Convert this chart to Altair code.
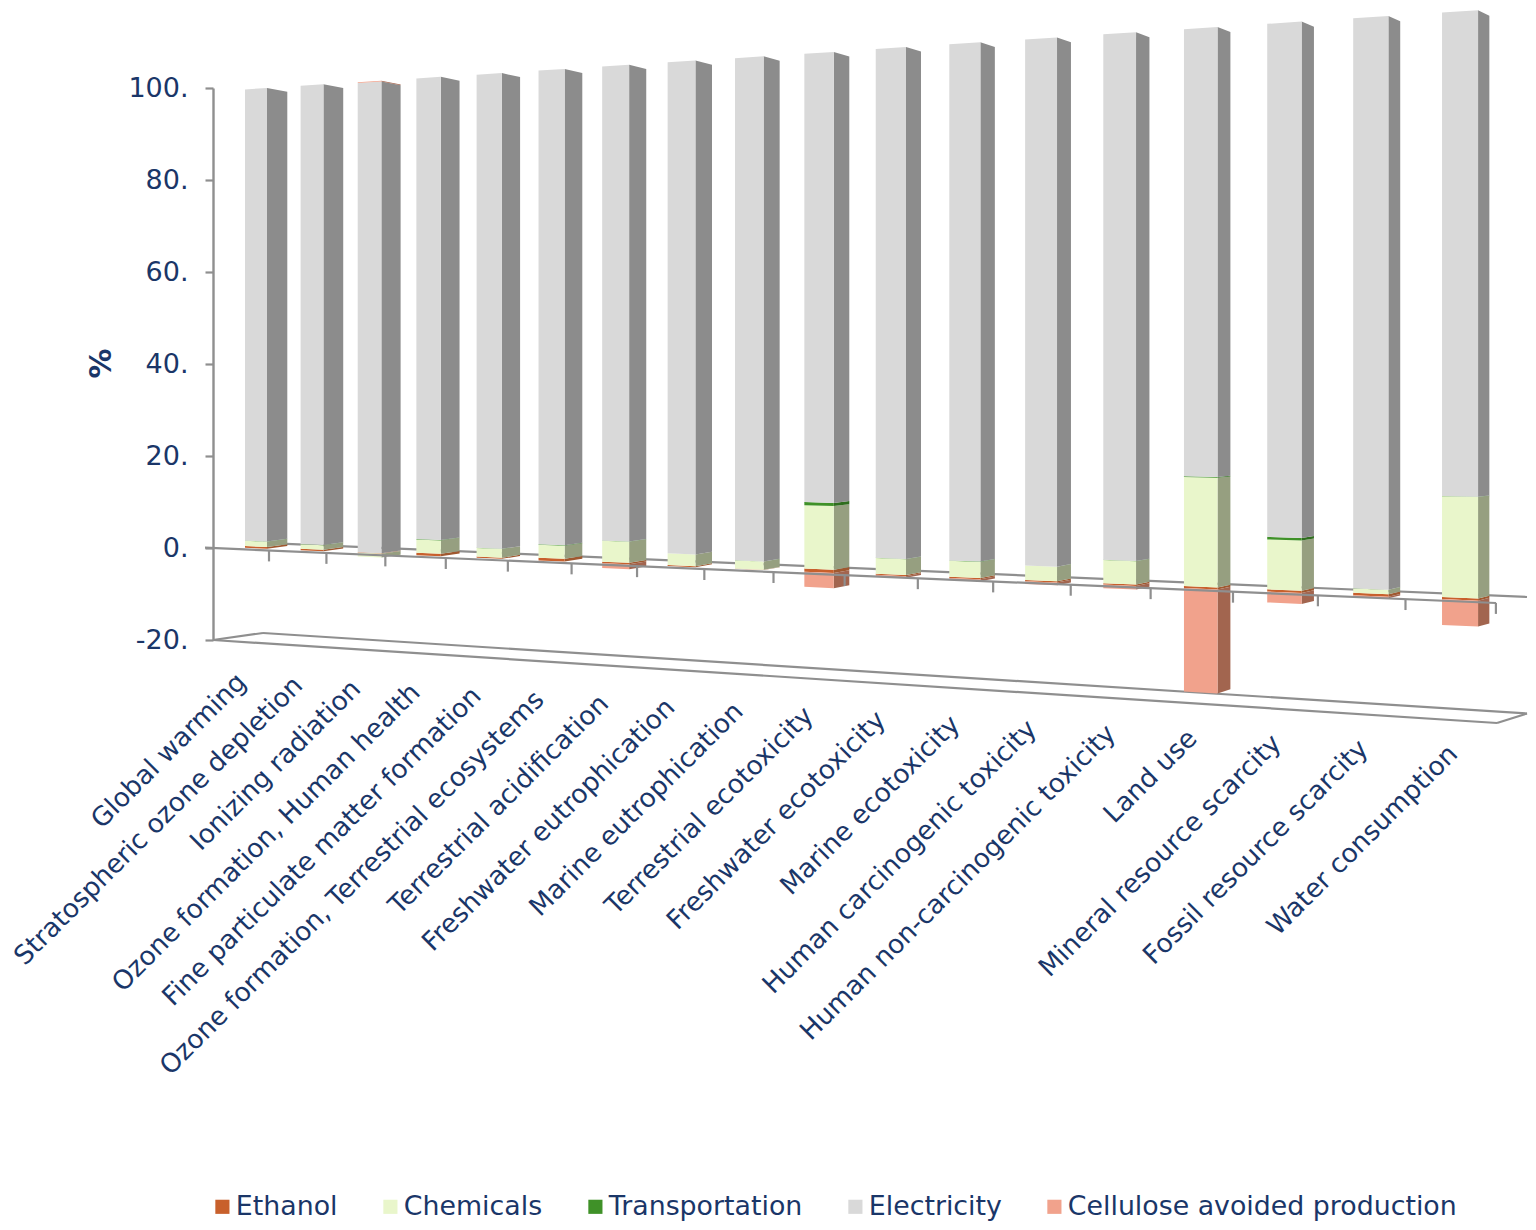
import altair as alt
import pandas as pd

categories = ["Global warming", "Stratospheric ozone depletion", "Ionizing radiation",
              "Ozone formation, Human health", "Fine particulate matter formation",
              "Ozone formation, Terrestrial ecosystems", "Terrestrial acidification",
              "Freshwater eutrophication", "Marine eutrophication", "Terrestrial ecotoxicity",
              "Freshwater ecotoxicity", "Marine ecotoxicity", "Human carcinogenic toxicity",
              "Human non-carcinogenic toxicity", "Land use", "Mineral resource scarcity",
              "Fossil resource scarcity", "Water consumption"]
ethanol = [.4, .3, .1, .5, .25, .55, .3, .2, .05, .65, .2, .25, .25, .25, .35, .4, .45, .35]
chemicals = [1.15, 1.0, -.8, 2.8, 1.8, 2.65, 4.2, 2.3, 1.6, 12.2, 3.0, 3.0, 2.65, 4.2, 19.5, 8.8, .75, 17.2]
transportation = [.05, .02, 0, .1, .02, .1, .05, .02, .02, .6, .05, .05, .02, .05, .15, .45, .02, .05]
electricity = [98.4, 98.7, 99.75, 96.6, 97.9, 96.7, 95.45, 97.5, 98.3, 86.5, 96.75, 96.7, 97.05, 95.5, 80.0, 90.35, 98.8, 82.4]
cellulose = [0, 0, .15, 0, 0, 0, -1, 0, 0, -2.9, -.3, -.35, -.5, -.65, -18.5, -1.9, -.25, -4.4]

series_names = ["Ethanol", "Chemicals", "Transportation", "Electricity", "Cellulose avoided production"]
series_values = [ethanol, chemicals, transportation, electricity, cellulose]
front_colors = ["#c8602c", "#e9f6cb", "#3f9128", "#d9d9d9", "#f1a28c"]
side_colors = ["#a0582f", "#969f80", "#2f6d1e", "#8c8c8c", "#a2654f"]

INK = "#1a3668"
LINE = "#8f8f8f"
FONT = "DejaVu Sans"
ORIGIN_X, ZERO_Y, UNIT = 213, 548, 4.6   # page position of the axis and its scale


# ---- oblique 3-D projection of the original chart -------------------------
def bar_left(i):
    return 245 + 54.9 * i / (1 - 0.01296 * i)


def bar_width(i):
    return 22 + 0.825 * i


def bar_depth(i):
    return 20.3 - 0.53 * i


def tick_x(i):
    return 213 + 55.3 * (i + 1) / (1 - 0.01245 * (i + 1))


def front_y(x, v):
    return 546.5 + 0.0428 * (x - 213) - (4.55 + 0.00107 * (x - 213)) * v


def back_y(x_front, v):
    return 543.7 + 0.0428 * (x_front - 213) - 0.986 * (4.55 + 0.00107 * (x_front - 213)) * v


def to_y(page_y):
    return (ZERO_Y - page_y) / UNIT


def to_x(page_x):
    return page_x - ORIGIN_X


front_rows, side_rows = [], []
for i, cat in enumerate(categories):
    pos, neg = 0.0, 0.0
    xl, xr, xb = bar_left(i), bar_left(i) + bar_width(i), bar_left(i) + bar_width(i) + bar_depth(i)
    for name, vals, sc in zip(series_names, series_values, side_colors):
        v = vals[i]
        if v == 0:
            continue
        if v > 0:
            lo, hi = pos, pos + v
            pos = hi
        else:
            lo, hi = neg + v, neg
            neg = lo
        key = f"{i}-{name}"
        for x in (xl, xr):
            front_rows.append(dict(key=key, series=name, x=to_x(x), y=to_y(front_y(x, hi)), y2=to_y(front_y(x, lo))))
        side_rows.append(dict(key=key, side=sc, x=to_x(xr), y=to_y(front_y(xr, hi)), y2=to_y(front_y(xr, lo))))
        side_rows.append(dict(key=key, side=sc, x=to_x(xb), y=to_y(back_y(xr, hi)), y2=to_y(back_y(xr, lo))))

front_df = pd.DataFrame(front_rows)
side_df = pd.DataFrame(side_rows)


def segment(name, x0, y0, x1, y1):
    return [dict(seg=name, x=to_x(x0), y=to_y(y0), ord=0), dict(seg=name, x=to_x(x1), y=to_y(y1), ord=1)]


back_lines = pd.DataFrame(
    segment("wall", 263, 542.8, 1527, 597)
    + segment("floor-back", 213, 640, 263, 633)
    + segment("floor-back2", 263, 633, 1527, 713.5)
)
front_lines = pd.DataFrame(
    segment("zero", 205, 547.7, 1496, 603)
    + segment("floor-front", 213, 640, 1497, 723)
    + segment("floor-right", 1497, 723, 1527, 713.5)
)

tick_df = pd.DataFrame([
    dict(x=to_x(tick_x(i)),
         y=to_y(548 + 0.0428 * (tick_x(i) - 213)),
         y2=to_y(548 + 0.0428 * (tick_x(i) - 213) + 11))
    for i in range(len(categories))
])

label_df = pd.DataFrame([
    dict(label=c,
         x=to_x(bar_left(i) + 0.85 * i - 3),
         y=to_y(678 + 0.06 * (bar_left(i) - 245)))
    for i, c in enumerate(categories)
])

x_scale = alt.Scale(domain=[0, 1315], nice=False, zero=False)
y_scale = alt.Scale(domain=[-20, 100], nice=False, zero=False)
y_axis = alt.Axis(values=[-20, 0, 20, 40, 60, 80, 100], labelExpr="datum.value + '.'",
                  title="%", grid=False, domainColor=LINE, domainWidth=2.4,
                  tickColor=LINE, tickWidth=2.2, tickSize=8, labelPadding=17,
                  labelFont=FONT, labelFontSize=27, labelColor=INK,
                  titleFont=FONT, titleFontSize=30, titleFontWeight="bold", titleColor=INK,
                  titleX=-97, titleY=275, titleAngle=270, titleAlign="center")
X = alt.X("x:Q", scale=x_scale, axis=None)
Y = alt.Y("y:Q", scale=y_scale, axis=y_axis)

back_layer = alt.Chart(back_lines).mark_line(color=LINE, strokeWidth=2.2).encode(
    x=X, y=Y, detail="seg:N", order="ord:Q")

side_layer = alt.Chart(side_df).mark_area(orient="vertical", opacity=1).encode(
    x=X, y=Y, y2="y2:Q", detail="key:N", color=alt.Color("side:N", scale=None))

front_layer = alt.Chart(front_df).mark_area(orient="vertical", opacity=1).encode(
    x=X, y=Y, y2="y2:Q", detail="key:N",
    color=alt.Color("series:N",
                    scale=alt.Scale(domain=series_names, range=front_colors),
                    sort=series_names,
                    legend=alt.Legend(orient="none", legendX=-4, legendY=1105, direction="horizontal",
                                      columns=5, columnPadding=39, title=None, symbolType="square",
                                      symbolSize=200, symbolStrokeWidth=0, labelFont=FONT,
                                      labelFontSize=26.8, labelColor=INK, labelOffset=0, labelLimit=500)))

front_line_layer = alt.Chart(front_lines).mark_line(color=LINE, strokeWidth=2.2).encode(
    x=X, y=Y, detail="seg:N", order="ord:Q")

tick_layer = alt.Chart(tick_df).mark_rule(color=LINE, strokeWidth=2.2).encode(x=X, y=Y, y2="y2:Q")

label_layer = alt.Chart(label_df).mark_text(
    angle=315, align="right", baseline="middle", font=FONT, fontSize=26.3, color=INK
).encode(x=X, y=Y, text="label:N")

chart = (
    alt.layer(back_layer, side_layer, front_layer, front_line_layer, tick_layer, label_layer)
    .resolve_scale(color="independent")
    .properties(
        width=1315, height=552,
        autosize=alt.AutoSizeParams(type="none"),
        padding={"left": 205, "top": 80, "right": 0, "bottom": 582},
        background="white",
    )
    .configure_view(stroke=None)
)

chart.save("out.html", embed_options={"renderer": "svg", "actions": False})
